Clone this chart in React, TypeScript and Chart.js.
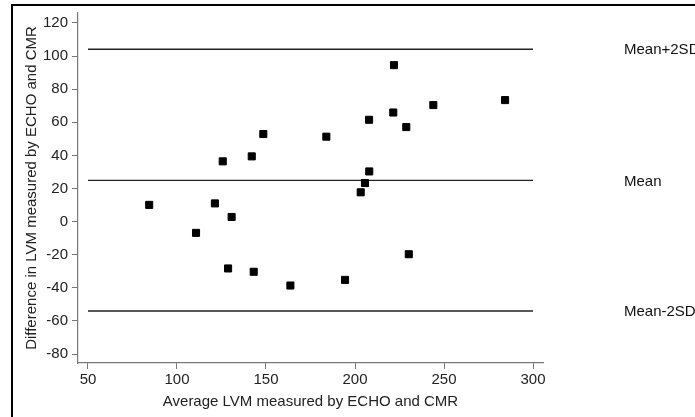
import React, { useEffect, useRef } from "react";
import { Chart, registerables } from "chart.js";

Chart.register(...registerables);

const avgLVM = [84.4, 110.7, 121.3, 125.7, 128.7, 130.7, 142.0, 143.1, 148.5, 163.7, 183.9, 194.4, 203.2, 205.6, 207.9, 208.0, 221.9, 221.5, 228.8, 230.2, 244.0, 284.3];
const diffLVM = [10.1, -6.8, 11.0, 36.4, -28.3, 2.8, 39.4, -30.3, 52.9, -38.6, 51.3, -35.2, 17.7, 23.3, 61.5, 30.3, 94.5, 65.9, 57.1, -19.7, 70.4, 73.4];
const limitLabels = ["Mean+2SD", "Mean", "Mean-2SD"];
const limitValues = [104.1, 24.9, -54.0];
const lineXRange = [50, 300];
const xTicks = [50, 100, 150, 200, 250, 300];
const yTicks = [-80, -60, -40, -20, 0, 20, 40, 60, 80, 100, 120];

const FONT = "'Liberation Sans', Arial, Helvetica, sans-serif";

export default function App() {
  const ref = useRef<HTMLCanvasElement | null>(null);

  useEffect(() => {
    document.body.style.margin = "0";
    if (!ref.current) return;

    const labelPlugin = {
      id: "limitLabels",
      afterDraw(chart: any) {
        const ctx = chart.ctx;
        const y = chart.scales.y;
        const area = chart.chartArea;
        ctx.save();
        ctx.font = `15px ${FONT}`;
        ctx.fillStyle = "#111";
        ctx.textBaseline = "middle";
        ctx.textAlign = "left";
        limitLabels.forEach((l, i) => {
          ctx.fillText(l, area.right + 81, y.getPixelForValue(limitValues[i]) + 1);
        });
        ctx.restore();
      },
    };

    const lineSets = limitValues.map((v, i) => ({
      type: "line" as const,
      label: limitLabels[i],
      data: lineXRange.map((x) => ({ x, y: v })),
      borderColor: "#222",
      borderWidth: 1.4,
      pointRadius: 0,
      fill: false,
    }));

    const chart = new Chart(ref.current, {
      type: "scatter",
      data: {
        datasets: [
          {
            label: "Difference",
            data: avgLVM.map((x, i) => ({ x, y: diffLVM[i] })),
            backgroundColor: "#000",
            borderColor: "#000",
            borderWidth: 1,
            pointStyle: "rect",
            pointRadius: 5,
          },
          ...lineSets,
        ] as any,
      },
      options: {
        animation: false,
        responsive: false,
        layout: { padding: { left: 20, right: 152, top: 13, bottom: 6 } },
        plugins: {
          legend: { display: false },
          tooltip: { enabled: false },
        },
        scales: {
          x: {
            type: "linear",
            min: 44.4,
            max: 305.6,
            afterBuildTicks: (axis: any) => {
              axis.ticks = xTicks.map((v) => ({ value: v }));
            },
            afterFit: (scale: any) => {
              scale.height = 48;
            },
            grid: {
              display: true,
              drawOnChartArea: false,
              drawTicks: true,
              tickLength: 6,
              color: "#777",
            },
            border: { display: true, color: "#777", width: 1.2 },
            ticks: {
              color: "#222",
              font: { family: FONT, size: 15 },
              padding: 2,
              maxRotation: 0,
            },
            title: {
              display: true,
              text: "Average LVM measured by ECHO and CMR",
              color: "#222",
              font: { family: FONT, size: 15 },
              padding: { top: 0, bottom: 0 },
            },
          },
          y: {
            type: "linear",
            min: -85.4,
            max: 126,
            afterBuildTicks: (axis: any) => {
              axis.ticks = yTicks.map((v) => ({ value: v }));
            },
            afterFit: (scale: any) => {
              scale.width = 58;
            },
            grid: {
              display: true,
              drawOnChartArea: false,
              drawTicks: true,
              tickLength: 6,
              color: "#777",
            },
            border: { display: true, color: "#777", width: 1.2 },
            ticks: {
              color: "#222",
              font: { family: FONT, size: 15 },
              padding: 4,
            },
            title: {
              display: true,
              text: "Difference in LVM measured by ECHO and CMR",
              color: "#222",
              font: { family: FONT, size: 15 },
              padding: { top: 3, bottom: 0 },
            },
          },
        },
      },
      plugins: [labelPlugin],
    });

    return () => chart.destroy();
  }, []);

  return (
    <div style={{ position: "fixed", left: 0, top: 0, width: 695, height: 417, background: "#fff", overflow: "hidden" }}>
      <div
        style={{
          position: "absolute",
          left: 11,
          top: 4,
          width: 800,
          height: 500,
          borderTop: "2px solid #000",
          borderLeft: "2px solid #000",
        }}
      />
      <canvas ref={ref} width={695} height={417} style={{ position: "absolute", left: 0, top: 0 }} />
    </div>
  );
}
